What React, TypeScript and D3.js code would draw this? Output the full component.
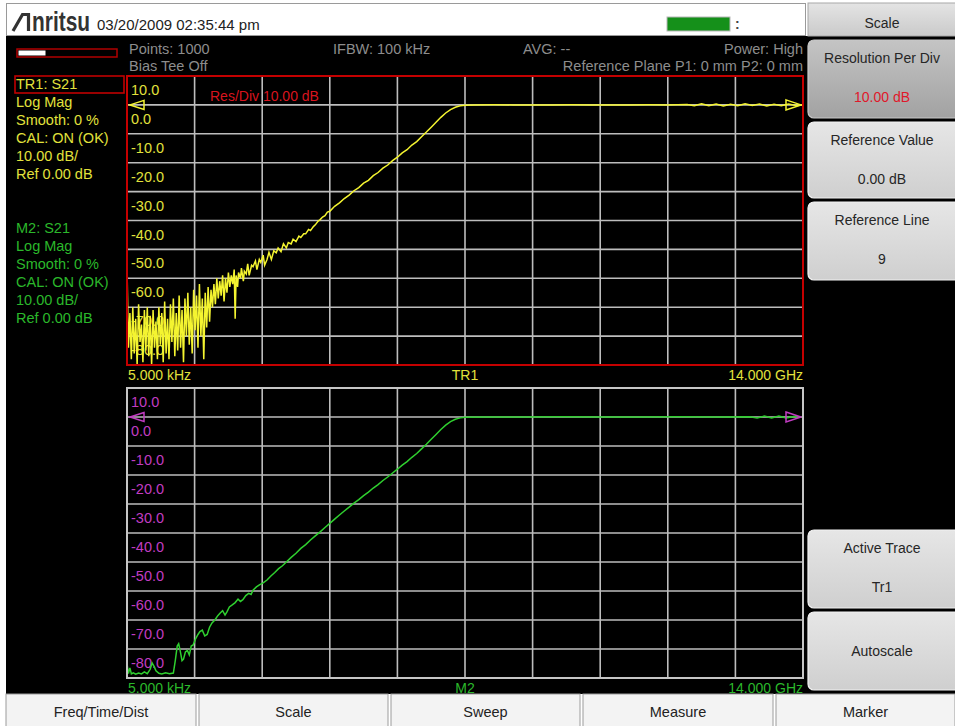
import React from "react";
import * as d3 from "d3";

// ---------------- data ----------------
const freqStartGHz = 0.000005;
const freqStopGHz = 14;
const dbTop = 10;
const dbBottom = -90;
const yTickValues = [10, 0, -10, -20, -30, -40, -50, -60, -70, -80];
const startLabel = "5.000 kHz";
const stopLabel = "14.000 GHz";

// TR1 (S21, yellow) : [GHz, dB]
const tr1Trace: [number, number][] = [
  [0.000005, -56], [0.03, -84], [0.06, -72], [0.09, -88], [0.12, -70], [0.15, -86], [0.18, -74], [0.21, -90],
  [0.24, -69], [0.27, -82], [0.30, -76], [0.33, -89], [0.36, -71], [0.39, -85], [0.42, -70], [0.45, -87],
  [0.48, -73], [0.51, -90], [0.54, -71], [0.57, -84], [0.60, -75], [0.63, -88], [0.66, -70], [0.69, -83],
  [0.72, -72], [0.75, -89], [0.78, -68], [0.81, -86], [0.84, -74], [0.87, -88], [0.90, -69], [0.93, -82],
  [0.96, -67], [0.99, -87], [1.02, -72], [1.05, -85], [1.08, -66], [1.11, -84], [1.14, -71], [1.17, -89],
  [1.20, -67], [1.23, -80], [1.26, -65], [1.29, -83], [1.32, -70], [1.35, -86], [1.38, -64], [1.41, -78],
  [1.44, -66], [1.47, -84], [1.50, -62], [1.53, -80], [1.56, -67], [1.59, -88], [1.62, -65], [1.65, -77],
  [1.68, -63], [1.71, -75], [1.74, -64], [1.77, -70], [1.80, -62], [1.83, -69], [1.86, -60], [1.89, -67],
  [1.92, -61], [1.95, -66], [1.98, -59], [2.01, -68], [2.04, -60], [2.07, -65], [2.10, -58], [2.13, -63],
  [2.16, -59], [2.19, -62], [2.22, -57], [2.24, -74], [2.26, -59], [2.29, -63], [2.31, -58], [2.35, -60],
  [2.37, -56.5], [2.41, -61], [2.43, -57.5], [2.47, -58.5], [2.50, -55], [2.53, -59], [2.58, -55.5], [2.61, -56],
  [2.66, -54], [2.69, -57], [2.74, -53.5], [2.77, -54.5], [2.82, -52], [2.85, -55.5], [2.90, -53.5], [2.94, -51],
  [2.99, -53.5], [3.04, -50.5], [3.09, -51.2], [3.13, -49.5], [3.19, -50.8], [3.24, -48], [3.30, -49.5], [3.34, -47.6],
  [3.40, -48.1], [3.44, -46.5], [3.50, -47.3], [3.56, -45.4], [3.60, -45.9], [3.66, -44.6], [3.70, -44.6],
  [3.76, -43.1], [3.80, -43.5], [3.86, -42.1], [3.90, -41.5], [3.96, -40.2], [4.00, -39.7], [4.05, -38.8],
  [4.10, -38.3], [4.15, -37.1], [4.20, -36.8], [4.30, -35.1], [4.40, -33.9], [4.50, -32.4], [4.60, -31.2],
  [4.70, -29.7], [4.80, -28.6], [4.90, -27.1], [5.00, -26.1], [5.10, -24.5], [5.20, -23.4], [5.30, -21.9],
  [5.40, -20.8], [5.50, -19.3], [5.60, -18.1], [5.70, -16.6], [5.80, -15.5], [5.90, -13.9], [6.00, -12.7],
  [6.10, -11.0], [6.20, -9.4], [6.30, -7.7], [6.40, -6.0], [6.50, -4.3], [6.60, -2.8], [6.70, -1.6],
  [6.80, -0.8], [6.90, -0.3], [7.00, -0.1], [7.20, 0], [7.60, 0.05], [8.00, 0], [8.40, -0.05], [8.80, 0],
  [9.20, 0.05], [9.60, 0], [10.00, -0.05], [10.40, 0], [10.80, 0.05], [11.20, 0], [11.60, 0.1], [11.75, -0.3],
  [11.90, 0.4], [12.05, -0.3], [12.20, 0.3], [12.35, -0.4], [12.50, 0.2], [12.65, -0.3], [12.80, 0.4],
  [12.95, -0.2], [13.10, 0.3], [13.25, -0.4], [13.40, 0.2], [13.55, -0.3], [13.70, 0.3], [13.85, -0.2], [14.0, 0],
];

// M2 (S21 memory, green) : [GHz, dB]
const m2Trace: [number, number][] = [
  [0.000005, -85], [0.03, -88.5], [0.06, -86.5], [0.09, -88.6], [0.13, -88.2], [0.18, -88.7], [0.24, -88.3],
  [0.30, -88.6], [0.36, -87.9], [0.42, -88.5], [0.48, -87], [0.52, -84.8], [0.56, -86], [0.60, -87.5],
  [0.66, -88.4], [0.72, -88.6], [0.80, -88.2], [0.88, -88.5], [0.96, -88.3], [1.00, -84], [1.04, -79],
  [1.07, -78.2], [1.10, -80.5], [1.14, -84], [1.17, -83.5], [1.21, -81], [1.25, -80.5], [1.29, -82],
  [1.33, -79], [1.37, -78.6], [1.42, -76.5], [1.47, -75], [1.51, -74], [1.56, -73.5], [1.61, -75.5],
  [1.66, -75], [1.71, -72.5], [1.76, -71], [1.82, -70], [1.88, -68.5], [1.93, -67.6], [1.98, -66.8],
  [2.03, -68.3], [2.07, -67.2], [2.12, -65.5], [2.18, -64.8], [2.24, -64], [2.30, -62.8], [2.35, -63.6],
  [2.40, -63], [2.46, -61.6], [2.52, -60.8], [2.57, -61.2], [2.61, -59.7], [2.68, -58.6], [2.75, -57.8],
  [2.82, -57.2], [2.90, -56.2], [2.98, -54.8], [3.06, -53.6], [3.14, -52.3], [3.22, -51.3], [3.30, -50],
  [3.40, -48.4], [3.50, -47], [3.60, -45.3], [3.70, -44], [3.80, -42.4], [3.90, -41], [4.00, -39.6],
  [4.10, -38.1], [4.20, -36.7], [4.30, -35.2], [4.40, -33.8], [4.50, -32.4], [4.60, -31.1], [4.70, -29.7],
  [4.80, -28.5], [4.90, -27.1], [5.00, -25.9], [5.10, -24.5], [5.20, -23.3], [5.30, -21.9], [5.40, -20.7],
  [5.50, -19.3], [5.60, -18], [5.70, -16.6], [5.80, -15.4], [5.90, -13.9], [6.00, -12.6], [6.10, -11],
  [6.20, -9.4], [6.30, -7.7], [6.40, -6], [6.50, -4.3], [6.60, -2.8], [6.70, -1.6], [6.80, -0.8],
  [6.90, -0.3], [7.00, -0.1], [7.40, 0], [8.20, 0], [9.00, 0.05], [9.80, 0], [10.60, 0], [11.40, 0.05],
  [12.20, 0], [12.90, 0.1], [13.05, -0.3], [13.20, 0.3], [13.35, -0.3], [13.50, 0.3], [13.65, -0.3],
  [13.80, 0.2], [14.0, 0],
];

const tr1Info = ["TR1: S21", "Log Mag", "Smooth: 0 %", "CAL: ON (OK)", "10.00 dB/", "Ref 0.00 dB"];
const m2Info = ["M2: S21", "Log Mag", "Smooth: 0 %", "CAL: ON (OK)", "10.00 dB/", "Ref 0.00 dB"];
const softKeyTitles = ["Resolution Per Div", "Reference Value", "Reference Line", "Active Trace", "Autoscale"];
const softKeyValues = ["10.00 dB", "0.00 dB", "9", "Tr1", ""];
const bottomKeys = ["Freq/Time/Dist", "Scale", "Sweep", "Measure", "Marker"];

// ---------------- layout ----------------
const W = 955;
const H = 726;
const X0 = 127;
const X1 = 803;
const FONT = "'Liberation Sans', Arial, sans-serif";
const YELLOW = "#f4f430";
const TEXT_YELLOW = "#e2e23c";
const GREEN = "#2fcf2f";
const TEXT_GREEN = "#2bb82b";
const MAGENTA = "#c23cc2";
const GRID = "#bdbdbd";

type PlotProps = {
  id: string;
  top: number;
  bottom: number;
  border: string;
  data: [number, number][];
  traceColor: string;
  tickColor: string;
  markerColor: string;
  labelColor: string;
  name: string;
  children?: React.ReactNode;
};

function Plot({ id, top, bottom, border, data, traceColor, tickColor, markerColor, labelColor, name, children }: PlotProps) {
  const x = d3.scaleLinear().domain([freqStartGHz, freqStopGHz]).range([X0, X1]);
  const y = d3.scaleLinear().domain([dbBottom, dbTop]).range([bottom, top]);
  const line = d3
    .line<[number, number]>()
    .x((d) => x(d[0]))
    .y((d) => y(d[1]));
  const span = freqStopGHz - freqStartGHz;
  const vGrid = d3.range(1, 10).map((i) => freqStartGHz + (span * i) / 10);
  const hGrid = yTickValues.filter((v) => v < dbTop);
  const r = y(0);
  return (
    <g>
      <defs>
        <clipPath id={id}>
          <rect x={X0} y={top} width={X1 - X0} height={bottom - top} />
        </clipPath>
      </defs>
      {vGrid.map((f, i) => (
        <line key={"v" + i} x1={x(f)} x2={x(f)} y1={top} y2={bottom} stroke={GRID} strokeWidth={1.6} />
      ))}
      {hGrid.map((v) => (
        <line key={"h" + v} x1={X0} x2={X1} y1={y(v)} y2={y(v)} stroke={GRID} strokeWidth={1.6} />
      ))}
      {yTickValues.map((v) => (
        <text key={"t" + v} x={X0 + 4} y={y(v) + 19} fill={tickColor} fontSize={14.5} fontFamily={FONT}>
          {v < 0 ? "-" + Math.abs(v).toFixed(1) : v.toFixed(1)}
        </text>
      ))}
      {children}
      <path d={line(data) || ""} fill="none" stroke={traceColor} strokeWidth={1.5} clipPath={`url(#${id})`} />
      <path
        d={`M${X0 + 17},${r - 4.5} L${X0 + 3},${r} L${X0 + 17},${r + 4.5} Z`}
        fill="none"
        stroke={markerColor}
        strokeWidth={1.5}
      />
      <path
        d={`M${X1 - 17},${r - 5} L${X1 - 2},${r} L${X1 - 17},${r + 5} Z`}
        fill="none"
        stroke={markerColor}
        strokeWidth={1.5}
      />
      <rect x={X0} y={top} width={X1 - X0} height={bottom - top} fill="none" stroke={border} strokeWidth={2} />
      <text x={X0 + 1} y={bottom + 15} fill={labelColor} fontSize={14} fontFamily={FONT}>
        {startLabel}
      </text>
      <text x={(X0 + X1) / 2} y={bottom + 15} fill={labelColor} fontSize={14} fontFamily={FONT} textAnchor="middle">
        {name}
      </text>
      <text x={X1} y={bottom + 15} fill={labelColor} fontSize={14} fontFamily={FONT} textAnchor="end">
        {stopLabel}
      </text>
    </g>
  );
}

function SoftKey({ top, h, title, value, pressed }: { top: number; h: number; title: string; value: string; pressed?: boolean }) {
  return (
    <g>
      <rect
        x={808}
        y={top}
        width={152}
        height={h}
        rx={6}
        fill={pressed ? "url(#gPressed)" : "url(#gKey)"}
        stroke={pressed ? "#c8c8c8" : "#f2f2f2"}
        strokeWidth={1.2}
      />
      {value ? (
        <>
          <text x={882} y={top + 23} textAnchor="middle" fontSize={14} fontFamily={FONT} fill="#262626">
            {title}
          </text>
          <text
            x={882}
            y={top + 62}
            textAnchor="middle"
            fontSize={14}
            fontFamily={FONT}
            fill={pressed ? "#e0182a" : "#262626"}
          >
            {value}
          </text>
        </>
      ) : (
        <text x={882} y={top + h / 2 + 5} textAnchor="middle" fontSize={14} fontFamily={FONT} fill="#262626">
          {title}
        </text>
      )}
    </g>
  );
}

export default function App() {
  const keyTops = [40, 122, 202, 530, 612];
  const keyH = [78, 76, 78, 78, 78];
  const bottomX = [6, 199, 391, 583, 776];
  const bottomW = [190, 189, 189, 190, 179];
  return (
    <svg
      width={W}
      height={H}
      viewBox={`0 0 ${W} ${H}`}
      style={{ position: "absolute", left: 0, top: 0, background: "#ffffff" }}
      fontFamily={FONT}
    >
      <defs>
        <linearGradient id="gKey" x1="0" y1="0" x2="0" y2="1">
          <stop offset="0" stopColor="#e6e6e6" />
          <stop offset="1" stopColor="#cfcfcf" />
        </linearGradient>
        <linearGradient id="gPressed" x1="0" y1="0" x2="0" y2="1">
          <stop offset="0" stopColor="#c4c4c4" />
          <stop offset="1" stopColor="#a2a2a2" />
        </linearGradient>
        <linearGradient id="gHead" x1="0" y1="0" x2="0" y2="1">
          <stop offset="0" stopColor="#e4e4e4" />
          <stop offset="1" stopColor="#cacaca" />
        </linearGradient>
      </defs>

      {/* black instrument area */}
      <rect x={6} y={36} width={W - 6} height={658} fill="#000" />

      {/* title bar */}
      <rect x={6.5} y={3.5} width={799} height={32} fill="#fff" stroke="#9a9a9a" strokeWidth={1} />
      <path d="M13,31 L22.5,14.5 L28.5,14.5 L28.5,31" fill="none" stroke="#333" strokeWidth={3.2} />
      <text x={32} y={31} fontSize={27} fontWeight="bold" fill="#333" textLength={58} lengthAdjust="spacingAndGlyphs">
        nritsu
      </text>
      <text x={97} y={30} fontSize={15} fill="#222">
        03/20/2009 02:35:44 pm
      </text>
      <rect x={667} y={17} width={63} height={14} fill="#15901a" stroke="#b8b8b8" strokeWidth={1} />
      <text x={735} y={29} fontSize={14} fontWeight="bold" fill="#444">
        :
      </text>

      {/* right panel header */}
      <rect x={808} y={3} width={150} height={33} fill="url(#gHead)" stroke="#a8a8a8" strokeWidth={1} />
      <text x={882} y={28} textAnchor="middle" fontSize={14} fill="#262626">
        Scale
      </text>

      {/* progress bar */}
      <rect x={17} y={49} width={100} height={8} fill="none" stroke="#b00000" strokeWidth={1.5} />
      <rect x={18.5} y={50.5} width={27} height={5} fill="#fff" />

      {/* status texts */}
      <g fill="#8d8d8d" fontSize={14.5}>
        <text x={129} y={54}>Points: 1000</text>
        <text x={129} y={71}>Bias Tee Off</text>
        <text x={333} y={54}>IFBW: 100 kHz</text>
        <text x={523} y={54}>AVG: --</text>
        <text x={803} y={54} textAnchor="end">Power: High</text>
        <text x={803} y={71} textAnchor="end">Reference Plane P1: 0 mm P2: 0 mm</text>
      </g>

      {/* left info panel */}
      <rect x={15} y={76} width={109} height={17} fill="none" stroke="#c00000" strokeWidth={1.6} />
      {tr1Info.map((t, i) => (
        <text key={"a" + i} x={16} y={89 + i * 18} fontSize={14.5} fill={TEXT_YELLOW}>
          {t}
        </text>
      ))}
      {m2Info.map((t, i) => (
        <text key={"b" + i} x={16} y={233 + i * 18} fontSize={14.5} fill={TEXT_GREEN}>
          {t}
        </text>
      ))}

      {/* upper plot */}
      <Plot
        id="clipTop"
        top={76}
        bottom={365}
        border="#c40000"
        data={tr1Trace}
        traceColor={YELLOW}
        tickColor={TEXT_YELLOW}
        markerColor={YELLOW}
        labelColor={TEXT_YELLOW}
        name="TR1"
      >
        <text x={210} y={101} fill="#d8141e" fontSize={14}>
          Res/Div 10.00 dB
        </text>
      </Plot>

      {/* lower plot */}
      <Plot
        id="clipBottom"
        top={388}
        bottom={678}
        border="#c6c6c6"
        data={m2Trace}
        traceColor={GREEN}
        tickColor={MAGENTA}
        markerColor={MAGENTA}
        labelColor={TEXT_GREEN}
        name="M2"
      />

      {/* soft keys */}
      {softKeyTitles.map((t, i) => (
        <SoftKey key={t} top={keyTops[i]} h={keyH[i]} title={t} value={softKeyValues[i]} pressed={i === 0} />
      ))}

      {/* bottom keys */}
      {bottomKeys.map((t, i) => (
        <g key={t}>
          <rect x={bottomX[i]} y={694} width={bottomW[i]} height={34} fill="#f3f3f3" stroke="#9c9c9c" strokeWidth={1} />
          <text x={bottomX[i] + bottomW[i] / 2} y={717} textAnchor="middle" fontSize={14.5} fill="#222">
            {t}
          </text>
        </g>
      ))}
    </svg>
  );
}
